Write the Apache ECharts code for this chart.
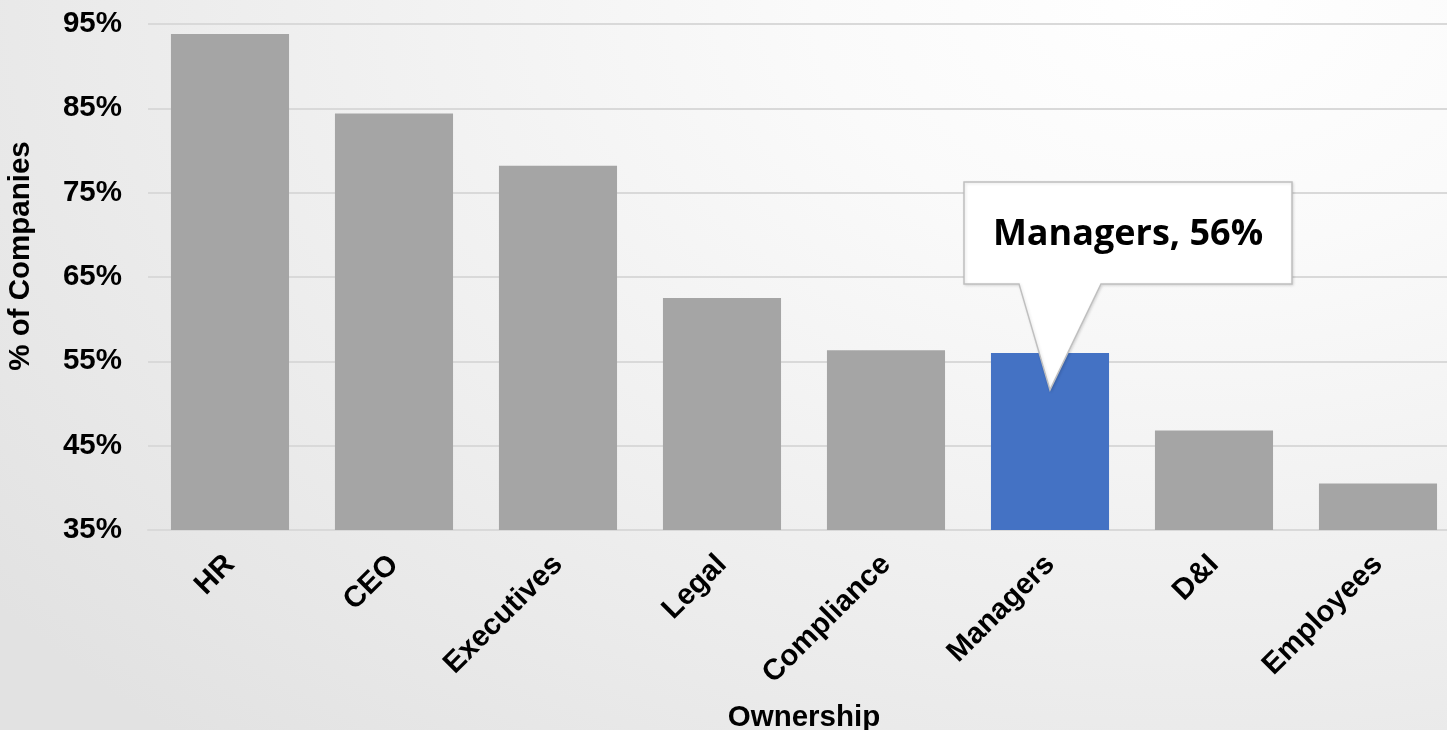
<!DOCTYPE html>
<html>
<head>
<meta charset="utf-8">
<script src="https://cdn.jsdelivr.net/npm/echarts@6/dist/echarts.min.js"></script>
<style>
  html, body { margin: 0; padding: 0; overflow: hidden; }
  body {
    width: 1447px; height: 730px;
    background: radial-gradient(ellipse 1500px 1000px at 1190px 0px, #ffffff 0%, #fafafa 25%, #efefef 60%, #e2e2e2 100%);
  }
  #chart { width: 1447px; height: 730px; }
</style>
</head>
<body>
<div id="chart"></div>
<script>
// Who owns the topic inside the company, share of companies
const categories = ['HR', 'CEO', 'Executives', 'Legal', 'Compliance', 'Managers', 'D&I', 'Employees'];
const shares = [93.8, 84.4, 78.2, 62.5, 56.3, 56, 46.8, 40.5];
const yTicks = [35, 45, 55, 65, 75, 85, 95];
const highlightIndex = 5;

const FONT = '"Liberation Sans", Arial, sans-serif';
const FONT_SIZE = 29.5;
const GRAY = '#a5a5a5';
const BLUE = '#4472c4';

const chart = echarts.init(document.getElementById('chart'), null, { renderer: 'canvas' });

chart.setOption({
  backgroundColor: 'transparent',
  animation: false,
  grid: { left: 148, top: 24, bottom: 200, width: 1312, containLabel: false, outerBoundsMode: 'none' },
  xAxis: {
    type: 'category',
    data: categories,
    name: 'Ownership',
    nameLocation: 'middle',
    nameGap: 173,
    nameTextStyle: { fontFamily: FONT, fontSize: FONT_SIZE, fontWeight: 'bold', color: '#000' },
    axisLine: { show: true, lineStyle: { color: '#d9d9d9', width: 2 } },
    axisTick: { show: false },
    axisLabel: {
      interval: 0, rotate: 45, margin: 30,
      fontFamily: FONT, fontSize: FONT_SIZE, fontWeight: 'bold', color: '#000'
    }
  },
  yAxis: {
    type: 'value',
    min: yTicks[0],
    max: yTicks[yTicks.length - 1],
    name: '% of Companies',
    nameLocation: 'middle',
    nameRotate: 90,
    nameGap: 112,
    nameTextStyle: {
      fontFamily: FONT, fontSize: FONT_SIZE, fontWeight: 'bold', color: '#000',
      padding: [0, 0, 0, 42]
    },
    axisLine: { show: false },
    axisTick: { show: false, customValues: yTicks },
    axisLabel: {
      customValues: yTicks,
      formatter: '{value}%',
      margin: 26,
      fontFamily: FONT, fontSize: FONT_SIZE, fontWeight: 'bold', color: '#000'
    },
    splitLine: { show: true, lineStyle: { color: '#d9d9d9', width: 2 } }
  },
  series: [{
    type: 'bar',
    data: shares.map((v, i) => ({
      value: v,
      itemStyle: { color: i === highlightIndex ? BLUE : GRAY }
    })),
    barCategoryGap: '28%'
  }]
});

// Callout pointing at the highlighted bar
function drawCallout() {
  const [tipX, barTop] = chart.convertToPixel({ xAxisIndex: 0, yAxisIndex: 0 },
    [categories[highlightIndex], shares[highlightIndex]]);
  const tipY = barTop + 37;
  const L = tipX - 86, R = tipX + 242, T = tipY - 208, B = tipY - 106;
  chart.setOption({
    graphic: [
      {
        type: 'polygon',
        shape: {
          points: [[L, T], [R, T], [R, B], [tipX + 51, B], [tipX, tipY], [tipX - 31, B], [L, B]]
        },
        style: {
          fill: '#ffffff', stroke: '#bfbfbf', lineWidth: 1.5,
          shadowBlur: 3, shadowColor: 'rgba(0,0,0,0.12)', shadowOffsetX: 1, shadowOffsetY: 1
        },
        z: 100
      },
      {
        type: 'text',
        x: (L + R) / 2,
        y: (T + B) / 2 + 2,
        style: {
          text: categories[highlightIndex] + ', ' + shares[highlightIndex] + '%',
          fontFamily: '"Open Sans", sans-serif',
          fontSize: 36,
          fontWeight: 'bold',
          fill: '#000',
          align: 'center',
          verticalAlign: 'middle'
        },
        z: 101
      }
    ]
  });
}
drawCallout();
</script>
</body>
</html>
